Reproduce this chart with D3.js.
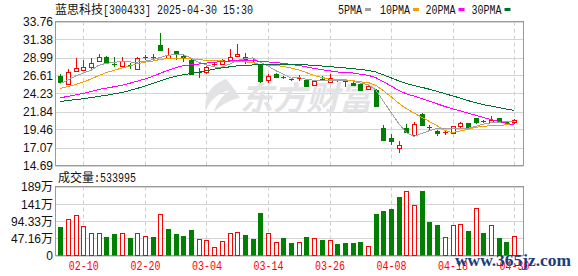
<!DOCTYPE html>
<html>
<head>
<meta charset="utf-8">
<script src="https://cdn.jsdelivr.net/npm/d3@7/dist/d3.min.js"></script>
<style>
  body { margin: 0; background: #fff; }
  svg { display: block; }
</style>
</head>
<body>
<div id="chart"></div>
<script>
// ---- data ----
const dates = ["02-05","02-06","02-07","02-10","02-11","02-12","02-13","02-14","02-17","02-18",
  "02-19","02-20","02-21","02-24","02-25","02-26","02-27","02-28","03-03","03-04",
  "03-05","03-06","03-07","03-10","03-11","03-12","03-13","03-14","03-17","03-18",
  "03-19","03-20","03-21","03-24","03-25","03-26","03-27","03-28","03-31","04-01",
  "04-02","04-03","04-07","04-08","04-09","04-10","04-11","04-14","04-15","04-16",
  "04-17","04-18","04-21","04-22","04-23","04-24","04-25","04-28","04-29","04-30"];

const openP = [26.56,25.50,27.22,27.40,27.75,28.59,29.03,28.15,27.93,28.06,
  27.49,29.10,29.10,30.62,28.99,29.83,29.21,28.72,27.11,27.09,
  28.04,28.19,28.68,29.21,29.12,28.70,28.00,25.95,26.87,26.40,
  26.10,26.28,25.99,25.41,26.18,25.77,26.01,25.90,25.64,25.50,
  24.79,24.75,19.70,18.39,17.02,19.72,18.79,21.57,19.74,19.28,
  19.04,18.97,19.90,20.29,20.95,20.53,20.51,20.95,20.44,20.42];
const highP = [26.87,27.53,28.90,28.64,28.90,29.52,29.21,29.03,29.03,28.33,
  29.12,29.38,29.47,32.30,30.27,29.90,29.38,28.86,27.62,27.88,
  28.41,28.86,30.09,30.75,29.56,28.86,28.15,26.78,26.96,26.56,
  26.29,26.70,26.07,26.07,26.56,26.78,26.20,25.95,25.72,25.59,
  25.37,24.88,20.00,18.83,17.99,20.25,20.47,21.70,20.03,19.41,
  19.37,19.98,20.42,20.34,21.04,20.73,21.30,20.95,20.64,20.91];
const lowP = [25.68,25.41,27.15,27.27,27.53,28.41,28.28,27.71,27.88,27.53,
  27.36,28.68,28.64,29.83,28.90,28.72,28.41,26.74,26.30,26.83,
  27.71,28.06,28.64,29.17,28.19,28.33,25.68,25.55,26.30,26.12,
  25.90,25.90,25.10,25.23,25.90,25.55,25.77,25.10,25.19,24.66,
  24.66,22.54,18.04,17.46,16.36,19.02,18.62,19.98,19.41,18.66,
  18.79,18.88,19.72,19.59,20.16,20.29,20.42,20.33,20.20,20.25];
const closeP = [25.77,27.13,27.58,27.71,28.33,29.12,28.41,28.08,28.50,27.90,
  28.99,29.06,29.05,29.96,29.38,29.47,28.94,26.87,27.07,27.75,
  28.08,28.68,29.03,29.52,28.77,28.66,25.85,26.52,26.47,26.36,
  26.05,26.33,25.28,25.86,26.14,26.30,25.97,25.72,25.32,24.71,
  25.28,22.59,18.10,17.90,17.46,19.10,20.16,20.07,19.70,19.05,
  19.09,19.90,20.29,19.67,20.47,20.49,20.78,20.51,20.40,20.73];

// volume in 万 shares, and whether the bar is drawn red (1) or green (0)
const volume = [76.9,100.8,110,79.6,62,62,49.4,57.7,60.4,46.7,
  60.4,52,49.4,114.5,71.4,60,52,71,45.8,43,
  24,40.3,62,65,55,44,115.3,62,35.7,46.7,
  33.8,37.6,49.4,48,41.2,43,31,33.8,33.8,35.7,
  26.6,112.6,120.8,126.3,159.3,175,139,175.7,90.6,82.4,
  51.3,82.4,85,66,131,60.4,82.4,46.7,35.7,53.4];
const volUp = [0,1,1,1,1,1,0,0,1,0, 1,1,0,1,0,0,0,0,1,1,
  1,1,1,1,0,0,0,1,1,0, 0,1,0,1,0,1,0,0,0,0,
  1,0,0,0,0,1,1,0,0,0, 1,1,1,0,1,0,1,0,0,1];

const ma5 = [25.55,26.00,26.55,26.95,27.30,27.97,28.23,28.33,28.49,28.40,
  28.38,28.51,28.70,28.99,29.29,29.38,29.36,28.92,28.35,28.02,
  27.74,27.69,28.12,28.61,28.82,28.93,28.38,27.87,27.26,26.78,
  26.26,26.35,26.10,25.98,25.93,25.98,25.91,26.00,25.89,25.60,
  25.40,24.72,23.20,21.71,20.26,19.03,18.54,18.94,19.30,19.62,
  19.61,19.56,19.61,19.60,19.88,20.16,20.34,20.38,20.53,20.58];
const ma10 = [24.89,25.15,25.42,25.75,26.15,26.60,27.00,27.30,27.60,27.85,
  28.18,28.37,28.52,28.74,28.85,28.88,28.93,28.81,28.67,28.65,
  28.56,28.53,28.52,28.48,28.42,28.34,28.03,28.00,27.94,27.80,
  27.60,27.36,26.99,26.62,26.36,26.12,26.13,26.05,25.93,25.77,
  25.69,25.32,24.60,23.80,22.93,22.21,21.63,21.07,20.51,19.94,
  19.32,19.05,19.27,19.45,19.75,19.89,19.95,20.00,20.07,20.23];
const ma20 = [23.65,23.85,24.05,24.25,24.50,24.75,24.95,25.12,25.32,25.58,
  25.85,26.15,26.50,26.90,27.30,27.65,27.90,28.03,28.13,28.25,
  28.37,28.45,28.52,28.61,28.63,28.61,28.48,28.41,28.30,28.23,
  28.08,27.94,27.75,27.55,27.39,27.23,27.08,27.02,26.94,26.78,
  26.64,26.34,25.79,25.21,24.65,24.17,23.88,23.56,23.22,22.85,
  22.51,22.18,21.93,21.63,21.34,21.05,20.79,20.53,20.29,20.09];
const ma30 = [23.17,23.30,23.42,23.53,23.68,23.84,24.00,24.18,24.36,24.62,
  24.90,25.20,25.55,25.90,26.25,26.50,26.70,26.88,27.05,27.25,
  27.45,27.62,27.75,27.88,27.95,28.00,28.03,28.05,28.07,28.10,
  28.11,28.08,28.01,27.95,27.87,27.78,27.70,27.62,27.51,27.41,
  27.28,27.07,26.70,26.30,25.90,25.56,25.26,25.04,24.79,24.50,
  24.20,23.91,23.62,23.29,23.01,22.74,22.57,22.37,22.17,21.98];

const priceTicks = [14.69,17.07,19.46,21.84,24.23,26.61,28.99,31.38,33.76];
const volTicks = [0,47.16,94.33,141.49,188.65];
const volTickLabels = ["0","47.16万","94.33万","141万","189万"];
const dateTicks = ["02-10","02-20","03-04","03-14","03-26","04-08","04-18","04-30"];
const maNames = ["5PMA","10PMA","20PMA","30PMA"];
const maColors = ["#a0a0a0","#f0a000","#ff00ff","#006f32"];
const lastVolume = 533995;

// ---- layout ----
const W = 578, H = 276;
const left = 55.5, right = 523.5;
const RED = "#ff0000", GREEN = "#008000";

const svg = d3.select("#chart").append("svg")
  .attr("width", W).attr("height", H)
  .style("font-family", "'Liberation Sans', Arial, sans-serif");

const x = d3.scalePoint().domain(dates).range([60.3, 514.1]);
const y = d3.scaleLinear().domain([14.69, 33.76]).range([165.5, 21.5]);
const yv = d3.scaleLinear().domain([0, 188.65]).range([255.5, 186.5]);
const px = v => Math.round(v) + 0.5;

// ---- grids ----
function panelGrid(scale, ticks, top, bottom) {
  const g = svg.append("g");
  g.selectAll("line.h").data(ticks).enter().append("line")
    .attr("x1", left).attr("x2", right)
    .attr("y1", d => px(scale(d))).attr("y2", d => px(scale(d)))
    .attr("stroke", "#d4d4d4");
  g.selectAll("line.v").data(dateTicks).enter().append("line")
    .attr("x1", d => px(x(d))).attr("x2", d => px(x(d)))
    .attr("y1", top).attr("y2", bottom)
    .attr("stroke", "#cfcfcf").attr("stroke-dasharray", "4,3");
  g.append("rect")
    .attr("x", left).attr("y", top)
    .attr("width", right - left).attr("height", bottom - top)
    .attr("fill", "none").attr("stroke", "#9a9a9a");
}
panelGrid(y, priceTicks, 21.5, 165.5);
panelGrid(yv, volTicks, 186.5, 255.5);

// ---- watermark ----
const wm = svg.append("g").attr("fill", "#e3e3e5");
wm.append("path")
  .attr("d", "M226,79 C212,84 203,96 206,110 C210,100 218,93 230,90 C222,96 216,104 214,112 C222,104 232,99 240,98 C236,92 232,85 226,79 Z");
wm.append("text")
  .attr("x", 240).attr("y", 110)
  .attr("font-family", "'Noto Sans CJK SC', sans-serif")
  .attr("font-weight", "bold").attr("font-size", 33)
  .attr("font-style", "italic")
  .attr("textLength", 132).attr("lengthAdjust", "spacingAndGlyphs")
  .text("东方财富");

// ---- candles ----
const candles = svg.append("g").selectAll("g").data(dates).enter().append("g");
candles.each(function(d, i) {
  const g = d3.select(this);
  const cx = Math.round(x(d));
  const up = closeP[i] >= openP[i];
  const col = up ? RED : GREEN;
  const yTop = y(Math.max(openP[i], closeP[i]));
  const yBot = y(Math.min(openP[i], closeP[i]));
  // wick
  g.append("line")
    .attr("x1", cx + 0.5).attr("x2", cx + 0.5)
    .attr("y1", Math.round(y(highP[i]))).attr("y2", Math.round(y(lowP[i])))
    .attr("stroke", col);
  if (yBot - yTop < 1.5) {
    g.append("line")
      .attr("x1", cx - 2).attr("x2", cx + 3)
      .attr("y1", px(yTop)).attr("y2", px(yTop))
      .attr("stroke", col);
  } else if (up) {
    g.append("rect")
      .attr("x", cx - 1.5).attr("y", px(yTop))
      .attr("width", 4).attr("height", Math.round(yBot) - Math.round(yTop))
      .attr("fill", "#fff").attr("stroke", col);
  } else {
    g.append("rect")
      .attr("x", cx - 2).attr("y", Math.round(yTop))
      .attr("width", 5).attr("height", Math.round(yBot) - Math.round(yTop) + 1)
      .attr("fill", col);
  }
});

// ---- moving averages ----
[ma5, ma10, ma20, ma30].forEach((arr, k) => {
  const line = d3.line().x((v, i) => x(dates[i])).y(v => y(v));
  svg.append("path")
    .attr("d", line(arr))
    .attr("fill", "none")
    .attr("stroke", maColors[k])
    .attr("stroke-width", 1)
    .attr("shape-rendering", "crispEdges");
});

// ---- volume bars ----
svg.append("g").selectAll("rect").data(dates).enter().append("rect")
  .each(function(d, i) {
    const r = d3.select(this);
    const cx = Math.round(x(d));
    const top = Math.round(yv(volume[i]));
    if (volUp[i]) {
      r.attr("x", cx - 1.5).attr("y", top + 0.5)
        .attr("width", 4).attr("height", 255 - top)
        .attr("fill", "#fff").attr("stroke", RED);
    } else {
      r.attr("x", cx - 2).attr("y", top)
        .attr("width", 5).attr("height", 255.5 - top)
        .attr("fill", GREEN);
    }
  });

// ---- axes ----
const yAxis = svg.append("g")
  .attr("transform", "translate(53,0)")
  .call(d3.axisLeft(y).tickValues(priceTicks).tickSize(0).tickFormat(d3.format(".2f")));
yAxis.select(".domain").remove();
yAxis.selectAll("text").attr("x", 0).attr("dy", "0.36em")
  .attr("font-size", 12).attr("fill", "#111").style("font-family", "'Liberation Sans', Arial, sans-serif");

const vAxis = svg.append("g")
  .attr("transform", "translate(53,0)")
  .call(d3.axisLeft(yv).tickValues(volTicks).tickSize(0).tickFormat((d, i) => volTickLabels[i]));
vAxis.select(".domain").remove();
vAxis.selectAll("text").attr("x", 0).attr("dy", "0.36em")
  .attr("font-size", 12).attr("fill", "#111")
  .style("font-family", "'Liberation Sans', 'Noto Sans CJK SC', sans-serif");

const xAxis = svg.append("g")
  .attr("transform", "translate(0,256)")
  .call(d3.axisBottom(x).tickValues(dateTicks).tickSize(0));
xAxis.select(".domain").remove();
xAxis.selectAll("text").attr("y", 0).attr("dy", "14")
  .attr("font-size", 12).attr("fill", RED)
  .attr("textLength", 30).attr("lengthAdjust", "spacingAndGlyphs")
  .style("font-family", "'Liberation Mono', monospace");

// ---- title & legend ----
svg.append("text").attr("x", 55).attr("y", 13.5)
  .attr("font-size", 12).attr("fill", "#111")
  .style("font-family", "'Noto Sans CJK SC', sans-serif")
  .text("蓝思科技");
svg.append("text").attr("x", 103).attr("y", 13.5)
  .attr("font-size", 12).attr("fill", "#111")
  .attr("textLength", 150).attr("lengthAdjust", "spacingAndGlyphs")
  .style("font-family", "'Liberation Mono', monospace")
  .text("[300433] 2025-04-30 15:30");

const legX = [338, 380, 425.5, 471.5];
const legend = svg.append("g").selectAll("g").data(maNames).enter().append("g");
legend.append("text")
  .attr("x", (d, i) => legX[i]).attr("y", 13.5)
  .attr("font-size", 12).attr("fill", "#111")
  .attr("textLength", d => d.length * 6).attr("lengthAdjust", "spacingAndGlyphs")
  .style("font-family", "'Liberation Mono', monospace")
  .text(d => d);
legend.append("rect")
  .attr("x", (d, i) => legX[i] + d.length * 6 + 3).attr("y", 8)
  .attr("width", 6).attr("height", 3)
  .attr("fill", (d, i) => maColors[i]);

svg.append("text").attr("x", 58).attr("y", 182)
  .attr("font-size", 12).attr("fill", "#111")
  .style("font-family", "'Noto Sans CJK SC', sans-serif")
  .text("成交量");
svg.append("text").attr("x", 94).attr("y", 182)
  .attr("font-size", 12).attr("fill", "#111")
  .attr("textLength", 42).attr("lengthAdjust", "spacingAndGlyphs")
  .style("font-family", "'Liberation Mono', monospace")
  .text(":" + lastVolume);

// site watermark in the corner
svg.append("text").attr("x", 455).attr("y", 266)
  .attr("font-size", 17).attr("font-weight", "bold").attr("fill", "#1b3d7a")
  .attr("textLength", 116).attr("lengthAdjust", "spacingAndGlyphs")
  .style("font-family", "'Liberation Serif', serif")
  .text("www.365jz.com");
</script>
</body>
</html>
